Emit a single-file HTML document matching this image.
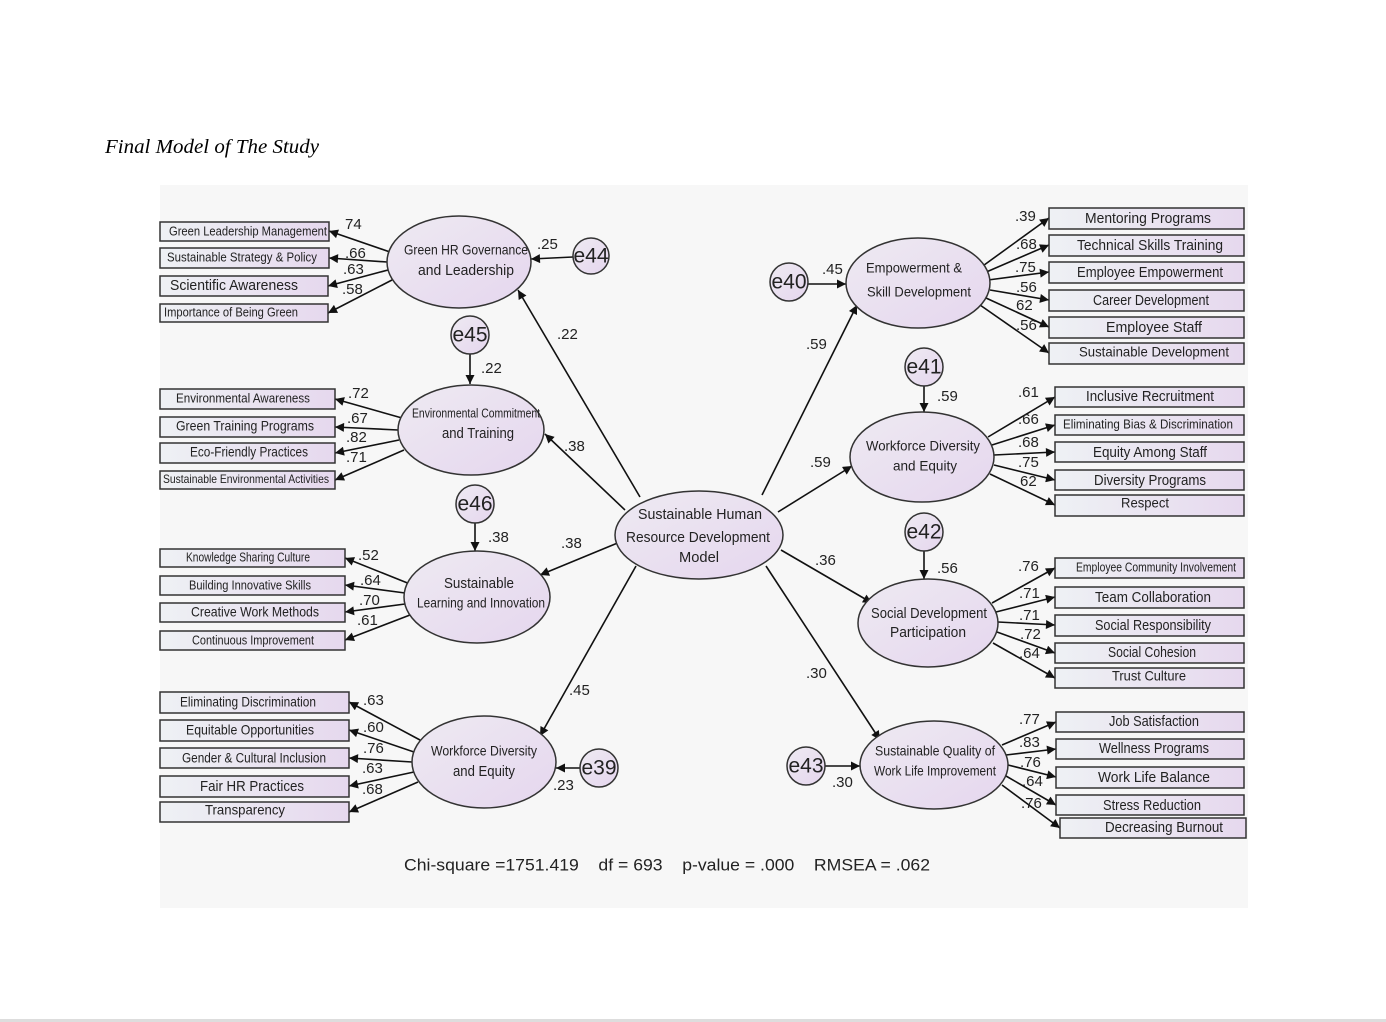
<!DOCTYPE html>
<html><head><meta charset="utf-8"><style>
html,body{margin:0;padding:0;background:#fff;width:1386px;height:1022px;overflow:hidden}
svg{position:absolute;left:0;top:0}
text{font-family:"Liberation Sans",sans-serif;fill:#222}
.bt{font-size:14px;text-anchor:middle;dominant-baseline:middle}
.et{font-size:15px;text-anchor:middle;dominant-baseline:middle}
.n{font-family:"Liberation Sans",sans-serif;font-size:15px;dominant-baseline:middle}
.e{font-family:"Liberation Sans",sans-serif;font-size:21px;text-anchor:middle;dominant-baseline:middle}
line{stroke:#111;stroke-width:1.6}
.bx{fill:url(#gb);stroke:#333;stroke-width:1.5}
.el{fill:url(#ge);stroke:#333;stroke-width:1.5}
</style></head><body>
<svg width="1386" height="1022" viewBox="0 0 1386 1022">
<defs>
<linearGradient id="gb" x1="0" x2="1"><stop offset="0" stop-color="#eef1f4"/><stop offset="1" stop-color="#e6d8ee"/></linearGradient>
<linearGradient id="ge" x1="0" x2="1" y1="0" y2="1"><stop offset="0" stop-color="#eeeaf2"/><stop offset="1" stop-color="#e5d6ee"/></linearGradient>
<marker id="a" viewBox="0 0 10 10" refX="10" refY="5" markerWidth="11" markerHeight="9" markerUnits="userSpaceOnUse" orient="auto"><path d="M0,0L10,5L0,10z" fill="#111"/></marker>
</defs>
<rect x="0" y="1019" width="1386" height="3" fill="#ddd"/>
<text x="105" y="153" textLength="214" lengthAdjust="spacingAndGlyphs" style="font-family:'Liberation Serif',serif;font-style:italic;font-size:20px;fill:#000">Final Model of The Study</text>
<rect x="160" y="185" width="1088" height="723" fill="#f7f7f7"/>

<g marker-end="url(#a)">
<line x1="390" y1="252" x2="329" y2="231"/><line x1="387" y1="262" x2="329" y2="258"/><line x1="388" y1="270" x2="328" y2="286"/><line x1="392" y1="280" x2="328" y2="313"/>
<line x1="402" y1="418" x2="335" y2="399"/><line x1="398" y1="430" x2="335" y2="427"/><line x1="399" y1="440" x2="335" y2="453"/><line x1="404" y1="450" x2="335" y2="480"/>
<line x1="410" y1="584" x2="345" y2="558"/><line x1="405" y1="593" x2="345" y2="585"/><line x1="405" y1="604" x2="345" y2="612"/><line x1="410" y1="615" x2="345" y2="640"/>
<line x1="420" y1="740" x2="349" y2="702"/><line x1="414" y1="752" x2="349" y2="730"/><line x1="412" y1="762" x2="349" y2="758"/><line x1="414" y1="772" x2="349" y2="786"/><line x1="418" y1="782" x2="349" y2="812"/>
<line x1="980" y1="268" x2="1049" y2="218"/><line x1="984" y1="273" x2="1049" y2="245"/><line x1="988" y1="280" x2="1049" y2="272"/><line x1="990" y1="290" x2="1049" y2="300"/><line x1="986" y1="298" x2="1049" y2="327"/><line x1="980" y1="305" x2="1049" y2="353"/>
<line x1="988" y1="437" x2="1055" y2="397"/><line x1="992" y1="445" x2="1055" y2="425"/><line x1="994" y1="455" x2="1055" y2="452"/><line x1="994" y1="465" x2="1055" y2="480"/><line x1="990" y1="474" x2="1055" y2="505"/>
<line x1="992" y1="603" x2="1055" y2="568"/><line x1="996" y1="612" x2="1055" y2="597"/><line x1="998" y1="622" x2="1055" y2="625"/><line x1="997" y1="632" x2="1055" y2="653"/><line x1="993" y1="643" x2="1055" y2="678"/>
<line x1="1002" y1="745" x2="1056" y2="722"/><line x1="1006" y1="755" x2="1056" y2="749"/><line x1="1008" y1="765" x2="1056" y2="777"/><line x1="1006" y1="776" x2="1056" y2="805"/><line x1="1002" y1="785" x2="1060" y2="828"/>
<line x1="640" y1="497" x2="518" y2="290"/><line x1="625" y1="510" x2="545" y2="434"/><line x1="620" y1="542" x2="540" y2="575"/><line x1="636" y1="566" x2="540" y2="736"/>
<line x1="762" y1="495" x2="857" y2="305"/><line x1="778" y1="512" x2="852" y2="466"/><line x1="781" y1="550" x2="872" y2="603"/><line x1="766" y1="566" x2="880" y2="740"/>
<line x1="573" y1="257" x2="531" y2="259"/><line x1="470" y1="354" x2="470" y2="384"/><line x1="475" y1="523" x2="475" y2="551"/><line x1="580" y1="768" x2="556" y2="768"/>
<line x1="808" y1="284" x2="846" y2="284"/><line x1="924" y1="386" x2="924" y2="412"/><line x1="924" y1="551" x2="924" y2="579"/><line x1="825" y1="766" x2="860" y2="766"/>
</g>

<rect class="bx" x="160" y="222" width="169" height="19"/><text class="bt" x="248" y="232" textLength="158" lengthAdjust="spacingAndGlyphs" style="font-size:13px">Green Leadership Management</text>
<rect class="bx" x="160" y="248" width="169" height="20"/><text class="bt" x="242" y="258" textLength="150" lengthAdjust="spacingAndGlyphs" style="font-size:13px">Sustainable Strategy &amp; Policy</text>
<rect class="bx" x="160" y="276" width="168" height="20"/><text class="bt" x="234" y="286" textLength="128" lengthAdjust="spacingAndGlyphs" style="font-size:15px">Scientific Awareness</text>
<rect class="bx" x="160" y="304" width="168" height="18"/><text class="bt" x="231" y="313" textLength="134" lengthAdjust="spacingAndGlyphs" style="font-size:13px">Importance of Being Green</text>

<rect class="bx" x="160" y="389" width="175" height="20"/><text class="bt" x="243" y="399" textLength="134" lengthAdjust="spacingAndGlyphs" style="font-size:13px">Environmental Awareness</text>
<rect class="bx" x="160" y="417" width="175" height="20"/><text class="bt" x="245" y="427" textLength="138" lengthAdjust="spacingAndGlyphs">Green Training Programs</text>
<rect class="bx" x="160" y="443" width="175" height="20"/><text class="bt" x="249" y="453" textLength="118" lengthAdjust="spacingAndGlyphs">Eco-Friendly Practices</text>
<rect class="bx" x="160" y="471" width="175" height="18"/><text class="bt" x="246" y="480" textLength="166" lengthAdjust="spacingAndGlyphs" style="font-size:12px">Sustainable Environmental Activities</text>

<rect class="bx" x="160" y="549" width="185" height="18"/><text class="bt" x="248" y="558" textLength="124" lengthAdjust="spacingAndGlyphs" style="font-size:12.5px">Knowledge Sharing Culture</text>
<rect class="bx" x="160" y="576" width="185" height="19"/><text class="bt" x="250" y="586" textLength="122" lengthAdjust="spacingAndGlyphs" style="font-size:13px">Building Innovative Skills</text>
<rect class="bx" x="160" y="603" width="185" height="19"/><text class="bt" x="255" y="613" textLength="128" lengthAdjust="spacingAndGlyphs">Creative Work Methods</text>
<rect class="bx" x="160" y="631" width="185" height="19"/><text class="bt" x="253" y="641" textLength="122" lengthAdjust="spacingAndGlyphs" style="font-size:13px">Continuous Improvement</text>

<rect class="bx" x="160" y="692" width="189" height="21"/><text class="bt" x="248" y="703" textLength="136" lengthAdjust="spacingAndGlyphs">Eliminating Discrimination</text>
<rect class="bx" x="160" y="720" width="189" height="21"/><text class="bt" x="250" y="731" textLength="128" lengthAdjust="spacingAndGlyphs">Equitable Opportunities</text>
<rect class="bx" x="160" y="748" width="189" height="20"/><text class="bt" x="254" y="759" textLength="144" lengthAdjust="spacingAndGlyphs" style="font-size:13.5px">Gender &amp; Cultural Inclusion</text>
<rect class="bx" x="160" y="776" width="189" height="21"/><text class="bt" x="252" y="787" textLength="104" lengthAdjust="spacingAndGlyphs" style="font-size:15px">Fair HR Practices</text>
<rect class="bx" x="160" y="802" width="189" height="20"/><text class="bt" x="245" y="811" textLength="80" lengthAdjust="spacingAndGlyphs">Transparency</text>

<rect class="bx" x="1049" y="208" width="195" height="21"/><text class="bt" x="1148" y="219" textLength="126" lengthAdjust="spacingAndGlyphs" style="font-size:15px">Mentoring Programs</text>
<rect class="bx" x="1049" y="235" width="195" height="21"/><text class="bt" x="1150" y="246" textLength="146" lengthAdjust="spacingAndGlyphs" style="font-size:15px">Technical Skills Training</text>
<rect class="bx" x="1049" y="262" width="195" height="21"/><text class="bt" x="1150" y="273" textLength="146" lengthAdjust="spacingAndGlyphs" style="font-size:15px">Employee Empowerment</text>
<rect class="bx" x="1049" y="290" width="195" height="21"/><text class="bt" x="1151" y="301" textLength="116" lengthAdjust="spacingAndGlyphs" style="font-size:15px">Career Development</text>
<rect class="bx" x="1049" y="317" width="195" height="21"/><text class="bt" x="1154" y="328" textLength="96" lengthAdjust="spacingAndGlyphs" style="font-size:15px">Employee Staff</text>
<rect class="bx" x="1049" y="343" width="195" height="21"/><text class="bt" x="1154" y="353" textLength="150" lengthAdjust="spacingAndGlyphs">Sustainable Development</text>

<rect class="bx" x="1055" y="387" width="189" height="20"/><text class="bt" x="1150" y="397" textLength="128" lengthAdjust="spacingAndGlyphs" style="font-size:15px">Inclusive Recruitment</text>
<rect class="bx" x="1055" y="415" width="189" height="20"/><text class="bt" x="1148" y="425" textLength="170" lengthAdjust="spacingAndGlyphs" style="font-size:13px">Eliminating Bias &amp; Discrimination</text>
<rect class="bx" x="1055" y="442" width="189" height="20"/><text class="bt" x="1150" y="453" textLength="114" lengthAdjust="spacingAndGlyphs" style="font-size:15px">Equity Among Staff</text>
<rect class="bx" x="1055" y="470" width="189" height="20"/><text class="bt" x="1150" y="481" textLength="112" lengthAdjust="spacingAndGlyphs" style="font-size:15px">Diversity Programs</text>
<rect class="bx" x="1055" y="495" width="189" height="21"/><text class="bt" x="1145" y="504" textLength="48" lengthAdjust="spacingAndGlyphs">Respect</text>

<rect class="bx" x="1055" y="558" width="189" height="20"/><text class="bt" x="1156" y="568" textLength="160" lengthAdjust="spacingAndGlyphs" style="font-size:12.5px">Employee Community Involvement</text>
<rect class="bx" x="1055" y="587" width="189" height="21"/><text class="bt" x="1153" y="598" textLength="116" lengthAdjust="spacingAndGlyphs" style="font-size:15px">Team Collaboration</text>
<rect class="bx" x="1055" y="615" width="189" height="21"/><text class="bt" x="1153" y="626" textLength="116" lengthAdjust="spacingAndGlyphs" style="font-size:15px">Social Responsibility</text>
<rect class="bx" x="1055" y="643" width="189" height="20"/><text class="bt" x="1152" y="653" textLength="88" lengthAdjust="spacingAndGlyphs" style="font-size:15px">Social Cohesion</text>
<rect class="bx" x="1055" y="668" width="189" height="20"/><text class="bt" x="1149" y="677" textLength="74" lengthAdjust="spacingAndGlyphs">Trust Culture</text>

<rect class="bx" x="1056" y="712" width="188" height="20"/><text class="bt" x="1154" y="722" textLength="90" lengthAdjust="spacingAndGlyphs" style="font-size:15px">Job Satisfaction</text>
<rect class="bx" x="1056" y="739" width="188" height="20"/><text class="bt" x="1154" y="749" textLength="110" lengthAdjust="spacingAndGlyphs" style="font-size:15px">Wellness Programs</text>
<rect class="bx" x="1056" y="767" width="188" height="21"/><text class="bt" x="1154" y="778" textLength="112" lengthAdjust="spacingAndGlyphs" style="font-size:15px">Work Life Balance</text>
<rect class="bx" x="1056" y="795" width="188" height="20"/><text class="bt" x="1152" y="806" textLength="98" lengthAdjust="spacingAndGlyphs" style="font-size:15px">Stress Reduction</text>
<rect class="bx" x="1060" y="818" width="186" height="20"/><text class="bt" x="1164" y="828" textLength="118" lengthAdjust="spacingAndGlyphs" style="font-size:15px">Decreasing Burnout</text>

<ellipse class="el" cx="459" cy="262" rx="72" ry="46"/><text class="et" x="466" y="251" textLength="124" lengthAdjust="spacingAndGlyphs" style="font-size:14px">Green HR Governance</text><text class="et" x="466" y="271" textLength="96" lengthAdjust="spacingAndGlyphs">and Leadership</text>
<ellipse class="el" cx="471" cy="430" rx="73" ry="45"/><text class="et" x="476" y="414" textLength="128" lengthAdjust="spacingAndGlyphs" style="font-size:13px">Environmental Commitment</text><text class="et" x="478" y="434" textLength="72" lengthAdjust="spacingAndGlyphs">and Training</text>
<ellipse class="el" cx="477" cy="597" rx="73" ry="46"/><text class="et" x="479" y="584" textLength="70" lengthAdjust="spacingAndGlyphs">Sustainable</text><text class="et" x="481" y="604" textLength="128" lengthAdjust="spacingAndGlyphs" style="font-size:14px">Learning and Innovation</text>
<ellipse class="el" cx="484" cy="762" rx="72" ry="46"/><text class="et" x="484" y="752" textLength="106" lengthAdjust="spacingAndGlyphs" style="font-size:14px">Workforce Diversity</text><text class="et" x="484" y="772" textLength="62" lengthAdjust="spacingAndGlyphs">and Equity</text>
<ellipse class="el" cx="699" cy="535" rx="84" ry="44"/><text class="et" x="700" y="515" textLength="124" lengthAdjust="spacingAndGlyphs">Sustainable Human</text><text class="et" x="698" y="538" textLength="144" lengthAdjust="spacingAndGlyphs">Resource Development</text><text class="et" x="699" y="558" textLength="40" lengthAdjust="spacingAndGlyphs">Model</text>
<ellipse class="el" cx="918" cy="283" rx="72" ry="45"/><text class="et" x="914" y="269" textLength="96" lengthAdjust="spacingAndGlyphs" style="font-size:14px">Empowerment &amp;</text><text class="et" x="919" y="293" textLength="104" lengthAdjust="spacingAndGlyphs" style="font-size:14px">Skill Development</text>
<ellipse class="el" cx="922" cy="457" rx="72" ry="45"/><text class="et" x="923" y="447" textLength="114" lengthAdjust="spacingAndGlyphs" style="font-size:14px">Workforce Diversity</text><text class="et" x="925" y="467" textLength="64" lengthAdjust="spacingAndGlyphs" style="font-size:14px">and Equity</text>
<ellipse class="el" cx="928" cy="623" rx="70" ry="44"/><text class="et" x="929" y="614" textLength="116" lengthAdjust="spacingAndGlyphs">Social Development</text><text class="et" x="928" y="633" textLength="76" lengthAdjust="spacingAndGlyphs">Participation</text>
<ellipse class="el" cx="934" cy="765" rx="74" ry="44"/><text class="et" x="935" y="752" textLength="120" lengthAdjust="spacingAndGlyphs" style="font-size:14px">Sustainable Quality of</text><text class="et" x="935" y="772" textLength="122" lengthAdjust="spacingAndGlyphs" style="font-size:13.5px">Work Life Improvement</text>

<circle class="el" cx="591" cy="256" r="18"/><text class="e" x="591" y="257">e44</text>
<circle class="el" cx="470" cy="335" r="19"/><text class="e" x="470" y="336">e45</text>
<circle class="el" cx="475" cy="504" r="19"/><text class="e" x="475" y="505">e46</text>
<circle class="el" cx="599" cy="768" r="19"/><text class="e" x="599" y="769">e39</text>
<circle class="el" cx="789" cy="282" r="19"/><text class="e" x="789" y="283">e40</text>
<circle class="el" cx="924" cy="367" r="19"/><text class="e" x="924" y="368">e41</text>
<circle class="el" cx="924" cy="532" r="19"/><text class="e" x="924" y="533">e42</text>
<circle class="el" cx="806" cy="766" r="19"/><text class="e" x="806" y="767">e43</text>

<g>
<text class="n" x="345" y="225">74</text><text class="n" x="345" y="254">.66</text><text class="n" x="343" y="270">.63</text><text class="n" x="342" y="290">.58</text>
<text class="n" x="348" y="394">.72</text><text class="n" x="347" y="419">.67</text><text class="n" x="346" y="438">.82</text><text class="n" x="346" y="458">.71</text>
<text class="n" x="358" y="556">.52</text><text class="n" x="360" y="581">.64</text><text class="n" x="359" y="601">.70</text><text class="n" x="357" y="621">.61</text>
<text class="n" x="363" y="701">.63</text><text class="n" x="363" y="728">.60</text><text class="n" x="363" y="749">.76</text><text class="n" x="362" y="769">.63</text><text class="n" x="362" y="790">.68</text>
<text class="n" x="1015" y="217">.39</text><text class="n" x="1016" y="245">.68</text><text class="n" x="1015" y="268">.75</text><text class="n" x="1016" y="288">.56</text><text class="n" x="1016" y="306">62</text><text class="n" x="1016" y="326">.56</text>
<text class="n" x="1018" y="393">.61</text><text class="n" x="1018" y="420">.66</text><text class="n" x="1018" y="443">.68</text><text class="n" x="1018" y="463">.75</text><text class="n" x="1020" y="482">62</text>
<text class="n" x="1018" y="567">.76</text><text class="n" x="1019" y="594">.71</text><text class="n" x="1019" y="616">.71</text><text class="n" x="1020" y="635">.72</text><text class="n" x="1019" y="654">.64</text>
<text class="n" x="1019" y="720">.77</text><text class="n" x="1019" y="743">.83</text><text class="n" x="1020" y="763">.76</text><text class="n" x="1022" y="782">.64</text><text class="n" x="1021" y="804">.76</text>
<text class="n" x="557" y="335">.22</text><text class="n" x="564" y="447">.38</text><text class="n" x="561" y="544">.38</text><text class="n" x="569" y="691">.45</text>
<text class="n" x="806" y="345">.59</text><text class="n" x="810" y="463">.59</text><text class="n" x="815" y="561">.36</text><text class="n" x="806" y="674">.30</text>
<text class="n" x="537" y="245">.25</text><text class="n" x="481" y="369">.22</text><text class="n" x="488" y="538">.38</text><text class="n" x="553" y="786">.23</text>
<text class="n" x="822" y="270">.45</text><text class="n" x="937" y="397">.59</text><text class="n" x="937" y="569">.56</text><text class="n" x="832" y="783">.30</text>
</g>
<text x="667" y="866" textLength="526" lengthAdjust="spacingAndGlyphs" style="font-family:'Liberation Sans',sans-serif;font-size:17px;text-anchor:middle;dominant-baseline:middle">Chi-square =1751.419 &#160;&#160; df = 693 &#160;&#160; p-value = .000 &#160;&#160; RMSEA = .062</text>
</svg>
</body></html>
